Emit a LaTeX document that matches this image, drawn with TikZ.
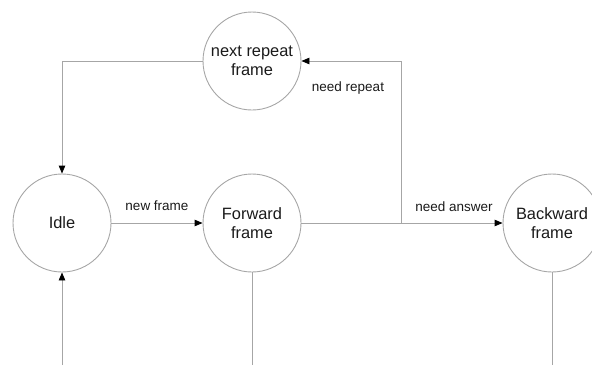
\documentclass[tikz,border=0pt]{standalone}
\usepackage{fontspec}
\setmainfont{Liberation Sans}
\usetikzlibrary{arrows.meta}
\definecolor{edgegray}{HTML}{A6A6A6}
\definecolor{inkdark}{HTML}{1A1A1A}
\tikzset{
  state/.style={circle, draw=edgegray, line width=0.9pt, minimum size=98pt,
    inner sep=0pt, align=center, text=inkdark, font=\fontsize{16.4}{19.5}\selectfont},
  link/.style={draw=edgegray, line width=0.9pt},
  arr/.style={link, -{Triangle[length=8pt,width=6.5pt,color=black]}},
  lbl/.style={text=inkdark, font=\fontsize{13.5}{16}\selectfont, inner sep=0pt},
}
\begin{document}
\begin{tikzpicture}[x=1pt, y=-1pt]
  \useasboundingbox (0,0) rectangle (592,365);
  \clip (0,0) rectangle (592,365);

  % states
  \node[state] (idle) at (62,223) {Idle};
  \node[state] (fwd)  at (252,223) {Forward\\frame};
  \node[state] (bwd)  at (552,223) {Backward\\frame};
  \node[state] (next) at (252,61) {next repeat\\frame};

  % free ends and branch point
  \coordinate (split)  at (401,223);
  \coordinate (idlein) at (62,365);
  \coordinate (fwdout) at (252,365);
  \coordinate (bwdout) at (552,365);

  % transitions
  \draw[arr] (idle.east) -- (fwd.west);
  \draw[arr] (fwd.east) -- (bwd.west);
  \draw[arr] (split) |- (next.east);
  \draw[arr] (next.west) -| (idle.north);
  \draw[arr] (idlein) -- (idle.south);
  \draw[link] (fwd.south) -- (fwdout);
  \draw[link] (bwd.south) -- (bwdout);

  % transition labels
  \node[lbl] (lnew) at (157,206) {new frame};
  \node[lbl] (lans) at (454,207) {need answer};
  \node[lbl] (lrep) at (348,88) {need repeat};
\end{tikzpicture}
\end{document}
